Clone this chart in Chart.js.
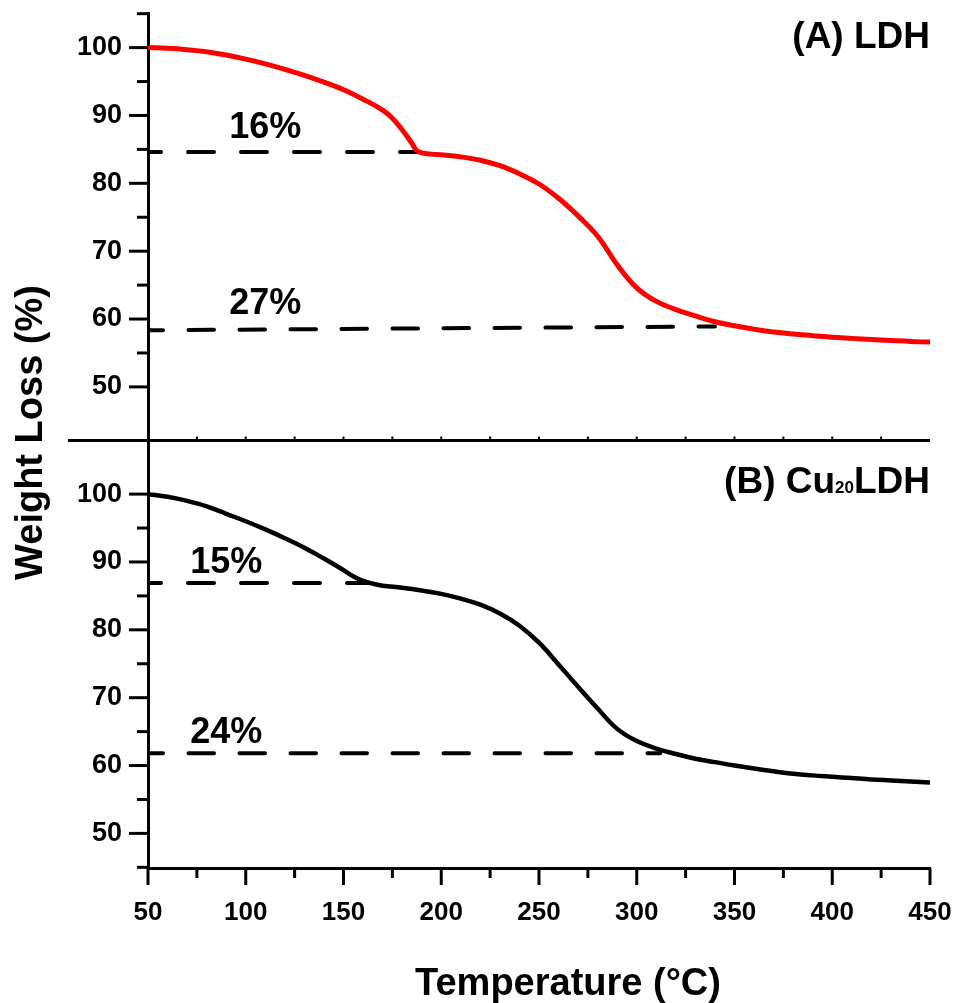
<!DOCTYPE html>
<html>
<head>
<meta charset="utf-8">
<script src="https://cdn.jsdelivr.net/npm/chart.js@4/dist/chart.umd.min.js"></script>
<style>
    html, body { margin: 0; padding: 0; background: #fff; }
</style>
</head>
<body>
<canvas id="tgaChart" width="958" height="1003"></canvas>
<script>

// axis ticks
const temperatureTicks = [50, 100, 150, 200, 250, 300, 350, 400, 450];
const temperatureMinorTicks = [75, 125, 175, 225, 275, 325, 375, 425];
const weightTicks = [50, 60, 70, 80, 90, 100];
const ldhMinorTicks = [55, 65, 75, 85, 95, 105];
const cuMinorTicks = [45, 55, 65, 75, 85, 95];

// (A) LDH curve
const ldhTemps = [50, 60, 70, 80, 90, 100, 110, 120, 130, 140, 150, 160, 170, 175, 180, 185, 188, 195, 200, 210, 220, 230, 240, 250, 260, 270, 280, 290, 300, 310, 320, 330, 340, 350, 360, 370, 380, 390, 400, 410, 420, 430, 440, 450];
const ldhWeights = [100, 99.9, 99.7, 99.4, 98.9, 98.3, 97.6, 96.8, 95.9, 94.9, 93.8, 92.4, 90.8, 89.6, 87.9, 85.9, 84.7, 84.3, 84.2, 83.9, 83.4, 82.6, 81.4, 79.9, 77.8, 75.2, 72.2, 68.0, 64.6, 62.6, 61.4, 60.45, 59.6, 59.0, 58.5, 58.1, 57.8, 57.55, 57.3, 57.15, 57.0, 56.85, 56.7, 56.6];

// (B) Cu20LDH curve
const cuTemps = [50, 60, 70, 80, 90, 100, 110, 120, 130, 140, 150, 155, 160, 165, 170, 180, 190, 200, 210, 220, 230, 240, 250, 260, 270, 280, 290, 300, 310, 320, 330, 340, 350, 360, 370, 380, 390, 400, 410, 420, 430, 440, 450];
const cuWeights = [100, 99.6, 99.0, 98.2, 97.1, 96.0, 94.8, 93.5, 92.1, 90.5, 88.8, 87.9, 87.2, 86.8, 86.5, 86.2, 85.8, 85.3, 84.6, 83.7, 82.4, 80.6, 78.1, 74.9, 71.6, 68.4, 65.4, 63.6, 62.5, 61.7, 61.0, 60.5, 60.0, 59.55, 59.15, 58.8, 58.55, 58.35, 58.15, 57.95, 57.8, 57.65, 57.5];

// dashed step guides
const ldhGuideTemps = [[50, 188], [50, 340]];
const ldhGuideWeights = [[84.6, 84.6], [58.35, 58.9]];
const ldhGuideLabels = ["16%", "27%"];

const cuGuideTemps = [[50, 162], [50, 312]];
const cuGuideWeights = [[86.9, 86.9], [61.8, 61.8]];
const cuGuideLabels = ["15%", "24%"];

// dash pattern of the first / second step guide
const guideDashes = [[26, 27], [25.5, 25.5]];
const guideDashOffsets = [13, 10.5];

// where the percentage texts sit (temperature, weight of baseline)
const ldhLabelAt = [[110, 86.7], [110, 60.7]];
const cuLabelAt = [[90, 88.35], [90, 63.3]];

const fontFamily = '"Liberation Sans", Arial, sans-serif';

Chart.defaults.font.family = fontFamily;
Chart.defaults.color = "#000";

function toPoints(xs, ys) {

    return xs.map((x, i) => ({ x: x, y: ys[i] }));

}

function noPadding(scale) {

    scale.paddingLeft = 0;
    scale.paddingRight = 0;
    scale.paddingTop = 0;
    scale.paddingBottom = 0;

}

function guideDataset(temps, weights, axisId, step) {

    return {
        data: toPoints(temps, weights),
        yAxisID: axisId,
        borderColor: "#000",
        borderWidth: 4,
        borderDash: guideDashes[step],
        borderDashOffset: guideDashOffsets[step],
        borderCapStyle: "round",
        pointRadius: 0,
        tension: 0
    };

}

function drawYTicks(ctx, scale, values, length) {

    values.forEach(v => {
        let py = scale.getPixelForValue(v);
        ctx.beginPath();
        ctx.moveTo(scale.right - length, py);
        ctx.lineTo(scale.right, py);
        ctx.stroke();
    });

}

function drawXTicks(ctx, scale, y, values, length) {

    values.forEach(v => {
        let px = scale.getPixelForValue(v);
        ctx.beginPath();
        ctx.moveTo(px, y);
        ctx.lineTo(px, y + length);
        ctx.stroke();
    });

}

function drawPercentLabels(ctx, xScale, yScale, labels, spots) {

    ctx.font = "bold 36px " + fontFamily;
    ctx.textAlign = "center";
    ctx.textBaseline = "alphabetic";

    labels.forEach((text, i) => {
        ctx.fillText(
            text,
            xScale.getPixelForValue(spots[i][0]),
            yScale.getPixelForValue(spots[i][1])
        );
    });

}

const decorPlugin = {

    id: "tgaDecor",

    afterDraw(chart) {

        const ctx = chart.ctx;
        const area = chart.chartArea;
        const xScale = chart.scales.x;
        const yTop = chart.scales.yLdh;
        const yBottom = chart.scales.yCu;

        ctx.save();
        ctx.strokeStyle = "#000";
        ctx.fillStyle = "#000";
        ctx.lineWidth = 3;

        // tick marks
        drawYTicks(ctx, yTop, weightTicks, 19);
        drawYTicks(ctx, yTop, ldhMinorTicks, 11);
        drawYTicks(ctx, yBottom, weightTicks, 19);
        drawYTicks(ctx, yBottom, cuMinorTicks, 11);

        drawXTicks(ctx, xScale, area.bottom, temperatureTicks, 17);
        drawXTicks(ctx, xScale, area.bottom, temperatureMinorTicks, 10);

        // line between the two panels
        let sepY = yTop.bottom;
        ctx.beginPath();
        ctx.moveTo(68, sepY);
        ctx.lineTo(area.right, sepY);
        ctx.stroke();

        ctx.lineWidth = 2;
        drawXTicks(ctx, xScale, sepY, temperatureTicks.slice(1, -1), -4);
        drawXTicks(ctx, xScale, sepY, temperatureMinorTicks, -4);

        // axis titles
        ctx.font = "bold 38px " + fontFamily;
        ctx.textAlign = "center";
        ctx.textBaseline = "alphabetic";
        ctx.fillText("Temperature (\u00B0C)", (area.left + area.right) / 2 + 29, 995);

        ctx.save();
        ctx.translate(42, (area.top + area.bottom) / 2 - 8);
        ctx.rotate(-Math.PI / 2);
        ctx.fillText("Weight Loss (%)", 0, 0);
        ctx.restore();

        // panel names
        ctx.textAlign = "right";
        ctx.font = "bold 37px " + fontFamily;
        ctx.fillText("(A) LDH", area.right, yTop.getPixelForValue(99.9));

        let baseB = yBottom.getPixelForValue(100.15);
        let tail = "LDH";
        let head = "(B) Cu";
        let tailW = ctx.measureText(tail).width;
        ctx.fillText(tail, area.right, baseB);
        ctx.font = "bold 17px " + fontFamily;
        let subW = ctx.measureText("20").width;
        ctx.fillText("20", area.right - tailW, baseB);
        ctx.font = "bold 37px " + fontFamily;
        ctx.fillText(head, area.right - tailW - subW, baseB);

        // step percentages
        drawPercentLabels(ctx, xScale, yTop, ldhGuideLabels, ldhLabelAt);
        drawPercentLabels(ctx, xScale, yBottom, cuGuideLabels, cuLabelAt);

        ctx.restore();

    }

};

function weightAxis(min, max) {

    return {
        type: "linear",
        position: "left",
        stack: "tga",
        stackWeight: 1,
        min: min,
        max: max,
        afterBuildTicks: scale => {
            scale.ticks = weightTicks.map(v => ({ value: v }));
        },
        afterFit: scale => {
            scale.width = 148;
            noPadding(scale);
        },
        grid: {
            drawOnChartArea: false,
            drawTicks: false
        },
        border: {
            color: "#000",
            width: 3
        },
        ticks: {
            color: "#000",
            padding: 26,
            font: { size: 27, weight: "bold" }
        }
    };

}

let datasets = [
    {
        data: toPoints(ldhTemps, ldhWeights),
        yAxisID: "yLdh",
        borderColor: "#ff0000",
        borderWidth: 5,
        pointRadius: 0,
        tension: 0.4
    },
    {
        data: toPoints(cuTemps, cuWeights),
        yAxisID: "yCu",
        borderColor: "#000",
        borderWidth: 4.5,
        pointRadius: 0,
        tension: 0.4
    }
];

ldhGuideTemps.forEach((t, i) => {
    datasets.push(guideDataset(t, ldhGuideWeights[i], "yLdh", i));
});

cuGuideTemps.forEach((t, i) => {
    datasets.push(guideDataset(t, cuGuideWeights[i], "yCu", i));
});

new Chart(document.getElementById("tgaChart"), {

    type: "line",

    data: {
        datasets: datasets
    },

    options: {

        responsive: false,
        animation: false,

        layout: {
            padding: { top: 13, right: 28, left: 0, bottom: 0 }
        },

        plugins: {
            legend: { display: false },
            tooltip: { enabled: false }
        },

        scales: {

            x: {
                type: "linear",
                position: "bottom",
                min: 50,
                max: 450,
                afterBuildTicks: scale => {
                    scale.ticks = temperatureTicks.map(v => ({ value: v }));
                },
                afterFit: scale => {
                    scale.height = 135;
                    noPadding(scale);
                },
                grid: {
                    drawOnChartArea: false,
                    drawTicks: false
                },
                border: {
                    color: "#000",
                    width: 3
                },
                ticks: {
                    color: "#000",
                    padding: 29,
                    autoSkip: false,
                    maxRotation: 0,
                    font: { size: 26, weight: "bold" }
                }
            },

            // bottom panel first, the stack puts the later axis on top
            yCu: weightAxis(44.9, 107.9),
            yLdh: weightAxis(42.1, 105.1)

        }

    },

    plugins: [decorPlugin]

});

</script>
</body>
</html>
